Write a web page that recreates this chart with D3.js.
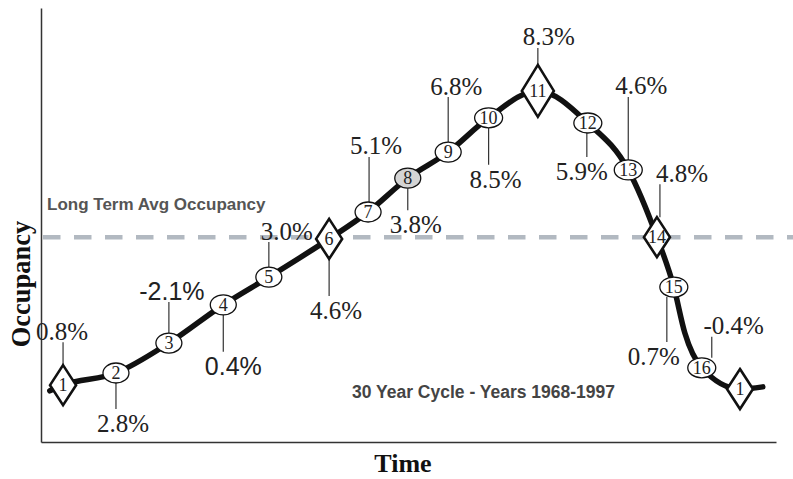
<!DOCTYPE html>
<html>
<head>
<meta charset="utf-8">
<script src="https://cdn.jsdelivr.net/npm/d3@7"></script>
<style>
  body { margin: 0; background: #fff; }
  svg { display: block; }
</style>
</head>
<body>
<div id="chart"></div>
<script>
// cycle phases, in order along the curve
const phases = ["1", "2", "3", "4", "5", "6", "7", "8", "9", "10", "11", "12", "13", "14", "15", "16", "1"]
// position in time (0-100) and relative occupancy level (0-100)
const timePos = [3.0, 10.2, 17.4, 24.8, 31.0, 39.2, 44.5, 49.9, 55.4, 60.9, 67.6, 74.4, 79.9, 83.8, 86.1, 89.9, 95.1]
const occLevel = [13.1, 15.9, 22.8, 31.6, 38.0, 46.8, 53.0, 60.8, 66.8, 74.7, 80.9, 73.5, 62.7, 47.2, 35.7, 17.1, 12.2]
// growth labels for each phase (last one has none)
const growth = ["0.8%", "2.8%", "-2.1%", "0.4%", "3.0%", "4.6%", "5.1%", "3.8%", "6.8%", "8.5%", "8.3%", "5.9%", "4.6%", "4.8%", "0.7%", "-0.4%", ""]
const diamondPhases = [0, 5, 10, 13, 16]   // indexes drawn as diamonds
const highlightPhase = 7                    // phase 8 is shaded

// extra points of the curve outside the markers
const curveStart = { t: 1.2, v: 11.8 }
const curveKink = { t: 87.6, v: 25.1 }
const curveEnd = { t: 98.2, v: 12.7 }

const avgOccupancy = 47.2

// label layout: side, leader length, leader dx, text dx, font
const labelLayout = [
    { side: "up", len: 23, ldx: 0, tdx: -1 },
    { side: "down", len: 26, ldx: 0, tdx: 7 },
    { side: "up", len: 31, ldx: 0, tdx: 3, sans: true },
    { side: "down", len: 37, ldx: 0, tdx: 10, sans: true },
    { side: "up", len: 25, ldx: 0, tdx: 18 },
    { side: "down", len: 37, ldx: 0, tdx: 7 },
    { side: "up", len: 45, ldx: 1, tdx: 8 },
    { side: "down", len: 22, ldx: 0, tdx: 8 },
    { side: "up", len: 45, ldx: 0, tdx: 8 },
    { side: "down", len: 37, ldx: 0, tdx: 7 },
    { side: "up", len: 17, ldx: 0, tdx: 11 },
    { side: "down", len: 24, ldx: -1, tdx: -6 },
    { side: "up", len: 63, ldx: 0, tdx: 13 },
    { side: "up", len: 33, ldx: 3, tdx: 25 },
    { side: "down", len: 45, ldx: -7, tdx: -20 },
    { side: "up", len: 21, ldx: 10, tdx: 32 },
    null
]

const width = 793
const height = 479

const svg = d3.select("#chart").append("svg")
    .attr("width", width)
    .attr("height", height)

const x = d3.scaleLinear().domain([0, 100]).range([41, 776])
const y = d3.scaleLinear().domain([0, 100]).range([442, 8])

// axes: only the lines, no ticks
svg.append("g")
    .attr("transform", `translate(0,${y(0)})`)
    .call(d3.axisBottom(x).tickValues([]).tickSizeOuter(0))
    .select(".domain").attr("stroke", "#333").attr("stroke-width", 1.5)

svg.append("g")
    .attr("transform", `translate(${x(0)},0)`)
    .call(d3.axisLeft(y).tickValues([]).tickSizeOuter(0))
    .select(".domain").attr("stroke", "#333").attr("stroke-width", 1.5)

// long term average line
svg.append("line")
    .attr("x1", x(0) + 2)
    .attr("x2", width)
    .attr("y1", y(avgOccupancy))
    .attr("y2", y(avgOccupancy))
    .attr("stroke", "#b2b9c1")
    .attr("stroke-width", 4.5)
    .attr("stroke-dasharray", "17.5,13.5")

svg.append("text")
    .attr("x", 47)
    .attr("y", y(avgOccupancy) - 27)
    .attr("font-family", "Liberation Sans, Arial, sans-serif")
    .attr("font-weight", "bold")
    .attr("font-size", 17)
    .attr("fill", "#555")
    .text("Long Term Avg Occupancy")

svg.append("text")
    .attr("x", 352)
    .attr("y", 398)
    .attr("font-family", "Liberation Sans, Arial, sans-serif")
    .attr("font-weight", "bold")
    .attr("font-size", 17.5)
    .attr("fill", "#444")
    .text("30 Year Cycle - Years 1968-1997")

// axis titles
svg.append("text")
    .attr("transform", "translate(30,284) rotate(-90)")
    .attr("text-anchor", "middle")
    .attr("font-family", "Liberation Serif, Times New Roman, serif")
    .attr("font-weight", "bold")
    .attr("font-size", 26.5)
    .attr("fill", "#111")
    .text("Occupancy")

svg.append("text")
    .attr("x", 403)
    .attr("y", 472)
    .attr("text-anchor", "middle")
    .attr("font-family", "Liberation Serif, Times New Roman, serif")
    .attr("font-weight", "bold")
    .attr("font-size", 26)
    .attr("fill", "#111")
    .text("Time")

// the cycle curve
const points = phases.map((p, i) => ({ t: timePos[i], v: occLevel[i] }))
const curvePoints = [curveStart, ...points.slice(0, 15), curveKink, ...points.slice(15), curveEnd]

const line = d3.line()
    .x(d => x(d.t))
    .y(d => y(d.v))
    .curve(d3.curveMonotoneX)

svg.append("path")
    .datum(curvePoints)
    .attr("d", line)
    .attr("fill", "none")
    .attr("stroke", "#111")
    .attr("stroke-width", 5.5)
    .attr("stroke-linecap", "round")
    .attr("stroke-linejoin", "round")

// marker sizes
function markerHalfHeight(i) {
    if (diamondPhases.includes(i)) return i === 10 ? 26 : 20
    return 10
}

// growth labels with leader lines
const labels = svg.append("g")
phases.forEach((p, i) => {
    const lay = labelLayout[i]
    if (!lay || !growth[i]) return
    const cx = x(timePos[i])
    const cy = y(occLevel[i])
    const edge = markerHalfHeight(i)
    const dir = lay.side === "up" ? -1 : 1
    const y1 = cy + dir * edge
    const y2 = y1 + dir * lay.len

    labels.append("line")
        .attr("x1", cx + lay.ldx)
        .attr("x2", cx + lay.ldx)
        .attr("y1", y1)
        .attr("y2", y2)
        .attr("stroke", "#333")
        .attr("stroke-width", 1.2)

    labels.append("text")
        .attr("x", cx + lay.tdx)
        .attr("y", lay.side === "up" ? y2 - 2.5 : y2 + 23)
        .attr("text-anchor", "middle")
        .attr("font-family", lay.sans ? "Liberation Sans, Arial, sans-serif" : "Liberation Serif, Times New Roman, serif")
        .attr("font-size", 25)
        .attr("fill", "#222")
        .text(growth[i])
})

// phase markers
const markers = svg.append("g")
phases.forEach((p, i) => {
    const cx = x(timePos[i])
    const cy = y(occLevel[i])
    const g = markers.append("g").attr("transform", `translate(${cx},${cy})`)
    if (diamondPhases.includes(i)) {
        const hh = markerHalfHeight(i)
        const hw = i === 10 ? 16 : 13
        g.append("path")
            .attr("d", `M0,${-hh}L${hw},0L0,${hh}L${-hw},0Z`)
            .attr("fill", "#fff")
            .attr("stroke", "#111")
            .attr("stroke-width", 2.6)
            .attr("stroke-linejoin", "miter")
    } else {
        g.append("ellipse")
            .attr("rx", p.length > 1 ? 14 : 13)
            .attr("ry", 10)
            .attr("fill", i === highlightPhase ? "#d4d4d4" : "#fff")
            .attr("stroke", "#111")
            .attr("stroke-width", 1.3)
    }
    g.append("text")
        .attr("y", 6)
        .attr("text-anchor", "middle")
        .attr("font-family", "Liberation Serif, Times New Roman, serif")
        .attr("font-size", 18)
        .attr("fill", "#222")
        .text(p)
})
</script>
</body>
</html>
